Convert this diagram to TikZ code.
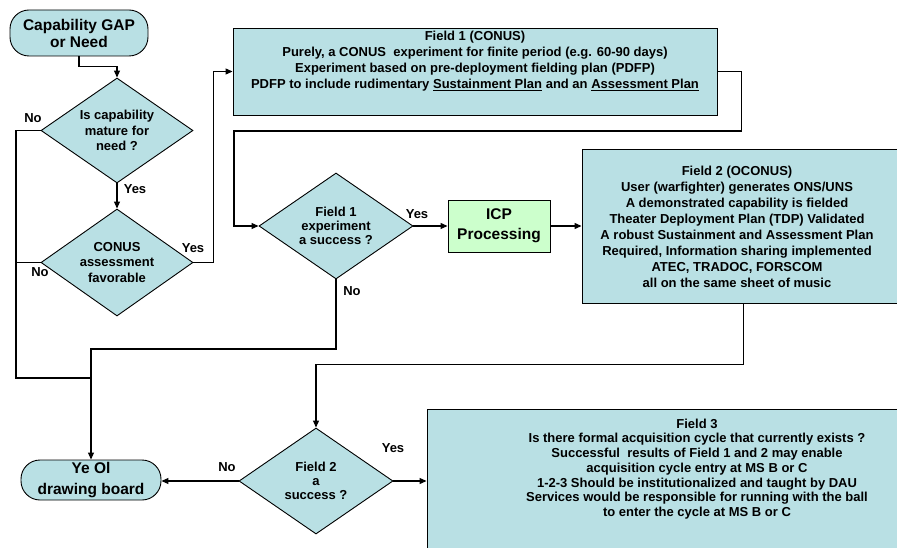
\documentclass[tikz,border=0pt]{standalone}
\usepackage{fontspec}
\setmainfont{Liberation Sans}
\usetikzlibrary{shapes.geometric,arrows.meta}
\definecolor{lblue}{RGB}{185,224,228}
\definecolor{lgreen}{RGB}{204,255,204}
\begin{document}
\begin{tikzpicture}[x=1pt,y=-1pt,
  box/.style={draw=black, fill=lblue, line width=0.9pt, inner sep=0},
  term/.style={box, rounded corners=19pt, align=center, font=\fontsize{15.5}{17}\selectfont\bfseries},
  dia/.style={diamond, draw=black, fill=lblue, aspect=1.45, inner sep=0, line width=0.9pt,
     align=center, font=\fontsize{13}{15.5}\selectfont\bfseries},
  txt/.style={align=center, inner sep=0, font=\fontsize{13}{16}\selectfont\bfseries},
  lab/.style={inner sep=0, font=\fontsize{13}{15}\selectfont\bfseries},
  conn/.style={line width=1.1pt},
  arr/.style={conn, -{Triangle[length=7pt,width=6pt]}}]
\useasboundingbox (0,0) rectangle (897,548);
\clip (0,0) rectangle (897,548);
\fill[white] (0,0) rectangle (897,548);

% nodes
\node[term, minimum width=138, minimum height=46] (start) at (79,33) {Capability GAP\\or Need};
\node[dia, minimum width=152, minimum height=105] (d1) at (117,130.5) {Is capability\\mature for\\need ?};
\node[dia, minimum width=152, minimum height=107] (d2) at (117,262.5) {CONUS\\assessment\\favorable};
\node[box, minimum width=484, minimum height=87] (field1) at (475,71.5) {};
\node[txt] (f1t) at (475,61) {Field 1 (CONUS)\\Purely, a CONUS\ \ experiment for finite period (e.g. 60-90 days)\\Experiment based on pre-deployment fielding plan (PDFP)\\PDFP to include rudimentary \underline{Sustainment Plan} and an \underline{Assessment Plan}};
\node[dia, minimum width=154, minimum height=106, font=\fontsize{13}{14}\selectfont\bfseries] (d3) at (336,226) {Field 1\\experiment\\a success ?};
\node[box, fill=lgreen, minimum width=102, minimum height=52, align=center, font=\fontsize{15.5}{20}\selectfont\bfseries] (icp) at (499,226) {ICP\\Processing};
\node[box, minimum width=323, minimum height=154] (field2) at (743.5,226) {};
\node[txt] (f2t) at (737,227) {Field 2 (OCONUS)\\User (warfighter) generates ONS/UNS\\A demonstrated capability is fielded\\Theater Deployment Plan (TDP) Validated\\A robust Sustainment and Assessment Plan\\Required, Information sharing implemented\\ATEC, TRADOC, FORSCOM\\all on the same sheet of music};
\node[dia, minimum width=154, minimum height=106, font=\fontsize{13}{14}\selectfont\bfseries] (d4) at (316,481) {Field 2\\a\\success ?};
\node[term, minimum width=140, minimum height=40, font=\fontsize{15.5}{20.5}\selectfont\bfseries] (board) at (91,480) {Ye Ol\\drawing board};
\node[box, minimum width=540, minimum height=156] (field3) at (697,487) {};
\node[txt, font=\fontsize{13}{14.7}\selectfont\bfseries] (f3t) at (697,469) {Field 3\\Is there formal acquisition cycle that currently exists ?\\Successful\ \ results of Field 1 and 2 may enable\\acquisition cycle entry at MS B or C\\1-2-3 Should be institutionalized and taught by DAU\\Services would be responsible for running with the ball\\to enter the cycle at MS B or C};

% junction coordinates
\coordinate (jl) at (16,378);
\coordinate (jb) at (91,378);
\coordinate (jm) at (91,349);
\coordinate (loop) at (234,131);

% connectors
\draw[arr] (start.south) -- ++(0,10) -| (d1.north);
\draw[arr] (d1.south) -- (d2.north);
\draw[conn] (d1.west) -| (jl) -- (jb);
\draw[conn] (d2.west) -- (d2.west -| jl);
\draw[arr] (d2.east) -- ++(20,0) |- (field1.west);
\draw[arr] (field1.east) -- ++(24,0) |- (loop) |- (d3.west);
\draw[arr] (d3.east) -- (icp.west);
\draw[arr] (icp.east) -- (icp.east -| field2.west);
\draw[arr] (d3.south) |- (jm) -- (board.north);
\draw[arr] (field2.south) -- ++(0,61) -| (d4.north);
\draw[arr] (d4.west) -- (d4.west -| board.east);
\draw[arr] (d4.east) -- (d4.east -| field3.west);

% labels
\node[lab] (l1) at (33,118) {No};
\node[lab] (l2) at (135,189) {Yes};
\node[lab] (l3) at (193,248) {Yes};
\node[lab] (l4) at (40,272) {No};
\node[lab] (l5) at (417,214) {Yes};
\node[lab] (l6) at (352,291) {No};
\node[lab] (l7) at (227,467) {No};
\node[lab] (l8) at (393,448) {Yes};
\end{tikzpicture}
\end{document}
